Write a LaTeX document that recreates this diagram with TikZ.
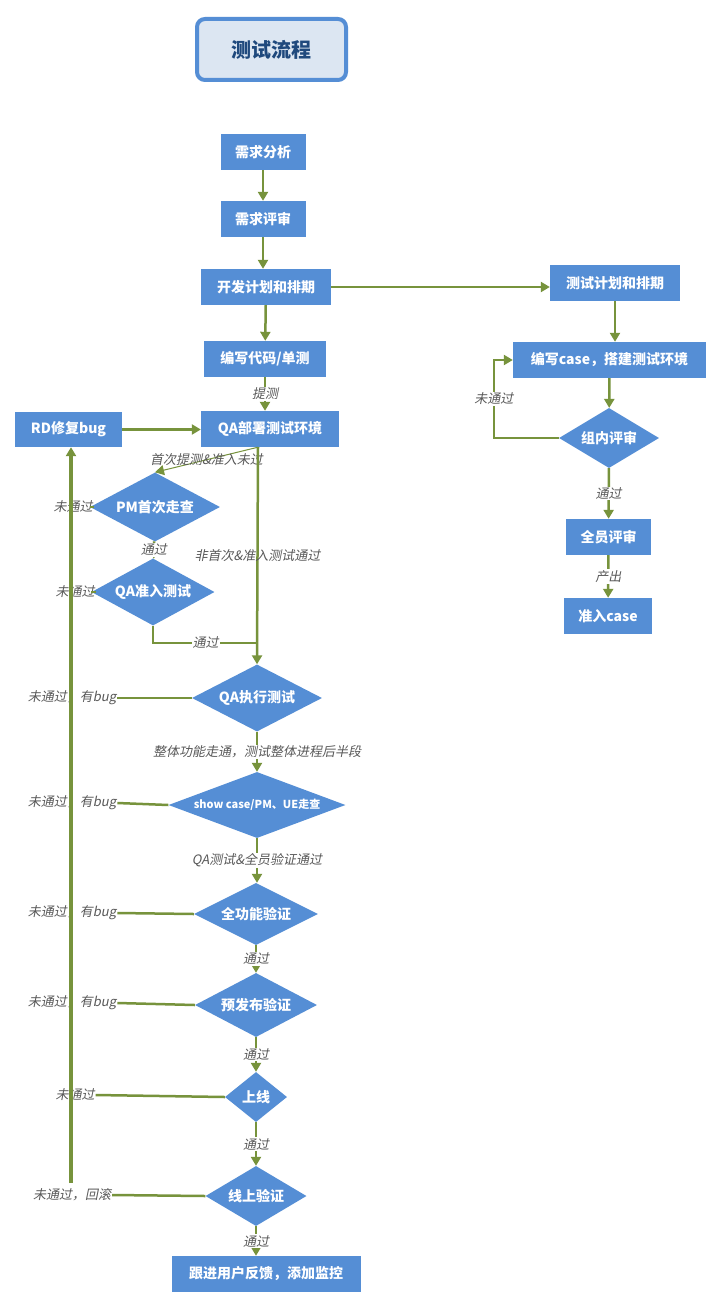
\documentclass[tikz,border=0pt]{standalone}
\usepackage{fontspec}
\setmainfont{Noto Sans CJK SC}
\newfontfamily\lblfont[FakeSlant=0.2]{Noto Sans CJK SC}
\usetikzlibrary{arrows.meta,shapes.geometric}
\definecolor{boxblue}{HTML}{558ED5}
\definecolor{linegreen}{HTML}{77933C}
\definecolor{titlefill}{HTML}{DCE6F2}
\definecolor{titletext}{HTML}{1F497D}
\definecolor{lblgray}{HTML}{595959}
\begin{document}
\begin{tikzpicture}[x=1pt,y=-1pt,
  box/.style={fill=boxblue,text=white,inner sep=0pt,minimum height=36pt,font=\bfseries\fontsize{14}{16}\selectfont},
  choice/.style={diamond,fill=boxblue,text=white,inner sep=0pt,font=\bfseries\fontsize{14}{16}\selectfont},
  wire/.style={draw=linegreen,line width=2.5pt},
  flow/.style={wire,-{Triangle[width=10pt,length=9pt]}},
  lbl/.style={font=\lblfont\fontsize{13}{15}\selectfont,text=lblgray,inner sep=1pt}]
\fill[white] (0,0) rectangle (722,1308);
\useasboundingbox (0,0) rectangle (722,1308);
% title
\node[draw=boxblue,line width=4pt,fill=titlefill,rounded corners=8pt,minimum width=149pt,minimum height=61pt,
  text=titletext,font=\bfseries\fontsize{20}{22}\selectfont] (title) at (271.5,49.5) {测试流程};
% development column
\node[box,minimum width=85pt] (reqana) at (263,152) {需求分析};
\node[box,minimum width=85pt] (reqrev) at (263,219) {需求评审};
\node[box,minimum width=130pt] (devplan) at (266,287) {开发计划和排期};
\node[box,minimum width=122pt] (code) at (265,359) {编写代码/单测};
\node[box,minimum width=138pt] (deploy) at (270,429) {QA部署测试环境};
\node[box,minimum width=107pt,minimum height=35pt] (rdfix) at (68.5,429.5) {RD修复bug};
% test column
\node[box,minimum width=130pt] (testplan) at (615,283) {测试计划和排期};
\node[box,minimum width=193pt] (writecase) at (609.5,360) {编写case，搭建测试环境};
\node[choice,aspect=1.667,minimum width=100pt,minimum height=60pt] (grouprev) at (609,438) {组内评审};
\node[box,minimum width=85pt] (allrev) at (608.5,537) {全员评审};
\node[box,minimum width=88pt] (entrycase) at (608,616) {准入case};
% decisions
\node[choice,aspect=1.884,minimum width=130pt,minimum height=69pt] (pmwalk) at (155,507) {PM首次走查};
\node[choice,aspect=1.836,minimum width=123pt,minimum height=67pt] (qaentry) at (153,592) {QA准入测试};
\node[choice,aspect=1.94,minimum width=130pt,minimum height=67pt] (exec) at (257,698) {QA执行测试};
\node[choice,aspect=2.68,minimum width=177pt,minimum height=66pt,font=\bfseries\fontsize{11}{13}\selectfont] (showcase) at (257,805) {show case/PM、UE走查};
\node[choice,aspect=2,minimum width=124pt,minimum height=62pt] (fullver) at (256,914) {全功能验证};
\node[choice,aspect=1.906,minimum width=122pt,minimum height=64pt] (prerel) at (256,1005) {预发布验证};
\node[choice,aspect=1.24,minimum width=62pt,minimum height=50pt] (online) at (256,1097) {上线};
\node[choice,aspect=1.683,minimum width=101pt,minimum height=60pt] (onver) at (256,1196) {线上验证};
\node[box,minimum width=189pt] (follow) at (266,1274) {跟进用户反馈，添加监控};
% failure labels
\node[lbl] (nopm) at (73,507) {未通过};
\node[lbl] (noqa) at (75,592) {未通过};
\node[lbl] (noexec) at (72,698) {未通过，有bug};
\node[lbl] (noshow) at (72,803) {未通过，有bug};
\node[lbl] (nofull) at (72,913) {未通过，有bug};
\node[lbl] (nopre) at (72,1003) {未通过，有bug};
\node[lbl] (noonline) at (75,1095) {未通过};
\node[lbl] (noonver) at (72,1195) {未通过，回滚};
\coordinate (loopend) at (71,1183);
\coordinate (join) at (258,643);
% connectors
\draw[flow] (reqana) -- (reqrev);
\draw[flow] (reqrev.south) -- (reqrev.south |- devplan.north);
\draw[flow] (devplan.east) -- (devplan.east -| testplan.west);
\draw[flow] (devplan) -- (code);
\draw[flow] (code) -- node[lbl,fill=white] {提测} (code |- deploy.north);
\draw[flow] (rdfix) -- (rdfix -| deploy.west);
\draw[flow,line width=1pt] ([xshift=-12pt]deploy.south) -- node[lbl] {首次提测\&准入未过} (pmwalk.north);
\draw[flow] ([xshift=-12pt]deploy.south) -- node[lbl] {非首次\&准入测试通过} (exec.north);
\draw[flow] (pmwalk) -- node[lbl,fill=white] {通过} (qaentry);
\draw[wire] (qaentry.south) |- node[lbl,pos=0.75,fill=white] {通过} (join);
\draw[flow] (exec) -- node[lbl,fill=white] {整体功能走通，测试整体进程后半段} (showcase);
\draw[flow] (showcase.south) -- node[lbl,fill=white] {QA测试\&全员验证通过} (showcase.south |- fullver.north);
\draw[flow] (fullver) -- node[lbl,fill=white] {通过} (prerel);
\draw[flow] (prerel) -- node[lbl,fill=white] {通过} (online);
\draw[flow] (online) -- node[lbl,fill=white] {通过} (onver);
\draw[flow] (onver.south) -- node[lbl,fill=white] {通过} (onver.south |- follow.north);
\draw[wire] (pmwalk.west) -- (nopm.east);
\draw[wire] (qaentry.west) -- (noqa.east);
\draw[wire] (exec.west) -- (noexec.east);
\draw[wire] (showcase.west) -- (noshow.east);
\draw[wire] (fullver.west) -- (nofull.east);
\draw[wire] (prerel.west) -- (nopre.east);
\draw[wire] (online.west) -- (noonline.east);
\draw[wire] (onver.west) -- (noonver.east);
\draw[flow,line width=4pt] (loopend) -- (loopend |- rdfix.south);
\draw[flow] (testplan.south) -- (testplan.south |- writecase.north);
\draw[flow] (writecase) -- (grouprev);
\draw[flow] (grouprev.west) -- ++(-65,0) |- node[lbl,pos=0.25,fill=white] {未通过} (writecase.west);
\draw[flow] (grouprev) -- node[lbl,fill=white] {通过} (allrev);
\draw[flow] (allrev) -- node[lbl,fill=white] {产出} (entrycase);
\end{tikzpicture}
\end{document}
